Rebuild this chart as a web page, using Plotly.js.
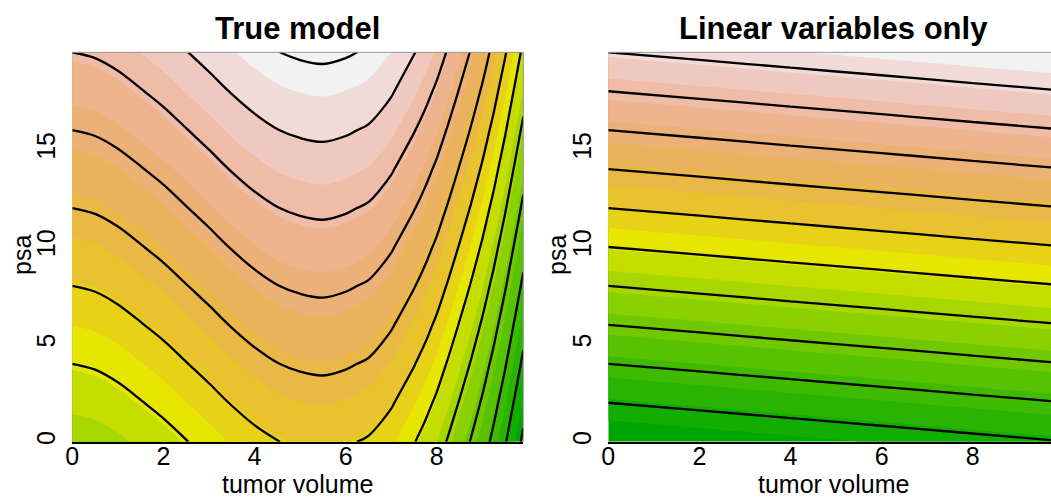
<!DOCTYPE html>
<html><head><meta charset="utf-8">
<script src="https://cdn.plot.ly/plotly-3.0.1.min.js"></script>
<style>html,body{margin:0;padding:0;overflow:hidden;background:#fff}#plot{width:1075px;height:497px}</style>
</head><body><div id="plot"></div>
<script>
// ---- data ----
// True model: value = psa + trueShift(tumor volume)  (contours are vertical shifts of one curve)
const tumorVolume = [0,0.5,1,1.5,2,2.5,3,3.5,4,4.5,5,5.5,6,6.5,7,7.5,7.75,8,8.25,8.5,8.75,9,9.25,9.5,9.75,9.9];
const trueShift   = [0,0.3,0.95,1.85,2.8,3.9,5.0,6.15,7.15,7.95,8.4,8.6,8.3,7.7,6.3,4.15,2.9,1.45,-0.3,-2.2,-4.2,-6.4,-8.9,-11.7,-14.8,-16.7];
const psa = [0,2,4,6,8,10,12,14,16,18,20];
// Linear variables only: value = psa + linShift(tumor volume)
const linTumorVolume = [0,2,4,6,8,9.9];
const linShift       = [0,0.39,0.79,1.18,1.58,1.95];
// contour line levels
const trueLevels = {start:-16, end:28, size:4};
const linLevels  = {start:2, end:20, size:2};
const xTicks = [0,2,4,6,8];
const yTicks = [0,5,10,15];
const nBands = 20;
const terrain20 = ['#00A600','#13AD00','#28B400','#3EBB00','#56C200','#70C900','#8BD000','#A7D700','#C5DE00','#E6E600',
                   '#E7D217','#E8C32E','#E9B846','#EBB25E','#ECB176','#EDB48E','#EEBCA7','#EFC9C0','#F1DBD9','#F2F2F2'];

// ---- build ----
const W = 1075, H = 497;
function buildZ(shift){ return psa.map(p => shift.map(s => p + s)); }
const zTrue = buildZ(trueShift);
const zLin = buildZ(linShift);

function fillTrace(xs, z, xa, ya){
  const flat = z.flat();
  const zmin = Math.min(...flat), zmax = Math.max(...flat);
  const w = (zmax - zmin) / nBands;
  return {type:'contour', x: xs, y: psa, z: z, xaxis: xa, yaxis: ya,
    autocontour:false,
    contours:{coloring:'fill', start: zmin + w, end: zmin + (nBands-1)*w, size: w, showlines:false},
    colorscale: terrain20.map((c,i)=>[i/(nBands-1), c]),
    showscale:false, line:{width:0, smoothing:1}, hoverinfo:'skip'};
}
function lineTrace(xs, z, xa, ya, lev){
  return {type:'contour', x: xs, y: psa, z: z, xaxis: xa, yaxis: ya,
    autocontour:false,
    contours:{coloring:'none', start: lev.start, end: lev.end, size: lev.size},
    line:{color:'#000', width:2.3, smoothing:1},
    showscale:false, hoverinfo:'skip'};
}

const data = [
  fillTrace(tumorVolume, zTrue, 'x', 'y'),
  lineTrace(tumorVolume, zTrue, 'x', 'y', trueLevels),
  fillTrace(linTumorVolume, zLin, 'x2', 'y2'),
  lineTrace(linTumorVolume, zLin, 'x2', 'y2', linLevels)
];

const yDom = [(H-441.7)/H, (H-52.3)/H];
const font = {family:'Liberation Sans, Arial, sans-serif', color:'#000'};
function xax(dom, anchor){
  return {domain: dom, anchor: anchor, range:[0,9.9], tickvals: xTicks, ticktext: xTicks.map(String),
    showgrid:false, zeroline:false, showline:true, linecolor:'#000', linewidth:2, ticks:'',
    ticklabelstandoff:-9,
    tickfont:{...font, size:25}, fixedrange:true};
}
function yax(anchor){
  return {domain: yDom, anchor: anchor, range:[0,20], tickvals: yTicks, ticktext: yTicks.map(String),
    showgrid:false, zeroline:false, showline:false, ticks:'', tickangle:-90,
    ticklabelstandoff:11,
    tickfont:{...font, size:25}, fixedrange:true};
}
const lx = [72.3/W, 523.3/W], rx = [608.3/W, 1059.3/W];
const layout = {
  width: W, height: H, margin:{l:0,r:0,t:0,b:0}, showlegend:false,
  paper_bgcolor:'#fff', plot_bgcolor:'#fff', font: font,
  xaxis: xax(lx, 'y'), yaxis: yax('x'),
  xaxis2: xax(rx, 'y2'), yaxis2: yax('x2'),
  shapes: [
    {type:'line', xref:'x domain', yref:'y domain', x0:0, x1:1, y0:1, y1:1, line:{color:'#999', width:1}},
    {type:'line', xref:'x domain', yref:'y domain', x0:1, x1:1, y0:0, y1:1, line:{color:'#999', width:1}},
    {type:'line', xref:'x2 domain', yref:'y2 domain', x0:0, x1:1, y0:1, y1:1, line:{color:'#999', width:1}}
  ],
  annotations: [
    {text:'<b>True model</b>', xref:'paper', yref:'paper', x:(lx[0]+lx[1])/2, y:(H-28)/H, xanchor:'center', yanchor:'middle', showarrow:false, font:{...font, size:31}},
    {text:'<b>Linear variables only</b>', xref:'paper', yref:'paper', x:(rx[0]+rx[1])/2, y:(H-28)/H, xanchor:'center', yanchor:'middle', showarrow:false, font:{...font, size:31}},
    {text:'tumor volume', xref:'paper', yref:'paper', x:(lx[0]+lx[1])/2, y:(H-484)/H, xanchor:'center', yanchor:'middle', showarrow:false, font:{...font, size:25}},
    {text:'tumor volume', xref:'paper', yref:'paper', x:(rx[0]+rx[1])/2, y:(H-484)/H, xanchor:'center', yanchor:'middle', showarrow:false, font:{...font, size:25}},
    {text:'psa', xref:'paper', yref:'paper', x:22/W, y:(H-255)/H, xanchor:'center', yanchor:'middle', textangle:-90, showarrow:false, font:{...font, size:25}},
    {text:'psa', xref:'paper', yref:'paper', x:557/W, y:(H-255)/H, xanchor:'center', yanchor:'middle', textangle:-90, showarrow:false, font:{...font, size:25}}
  ]
};
Plotly.newPlot('plot', data, layout, {staticPlot:true, displayModeBar:false});
</script></body></html>
